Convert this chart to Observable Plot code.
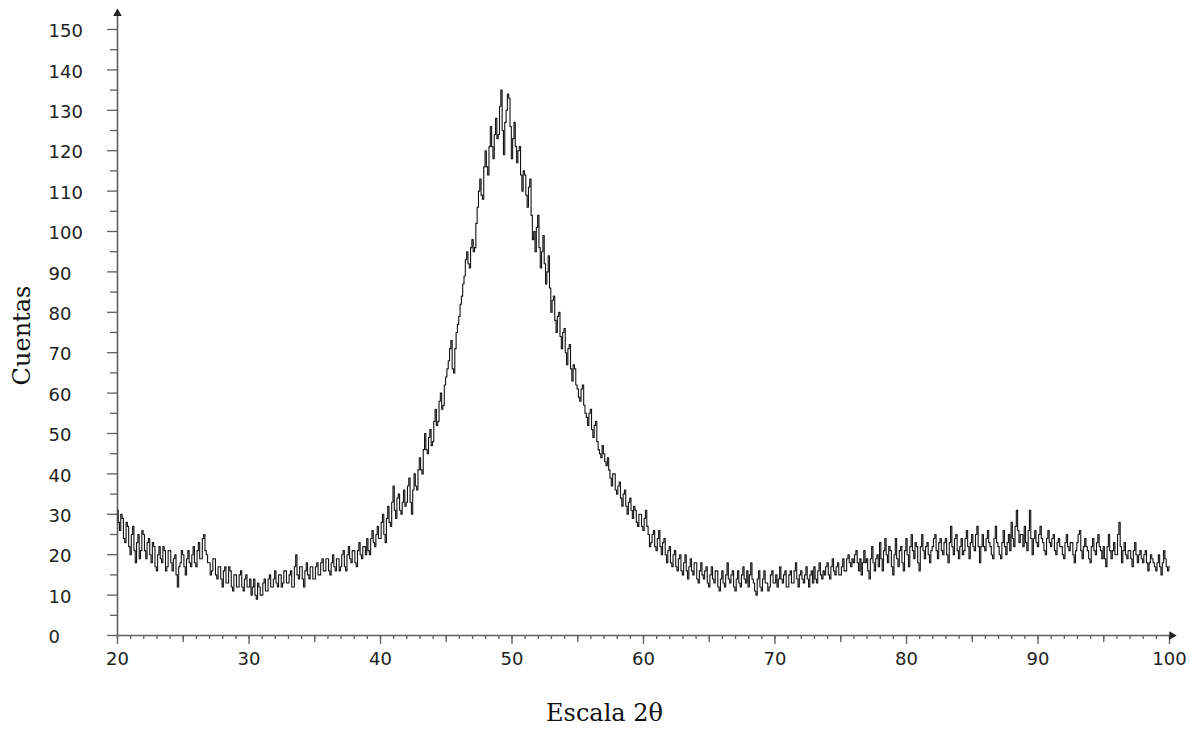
<!DOCTYPE html>
<html>
<head>
<meta charset="utf-8">
<script src="https://cdn.jsdelivr.net/npm/d3@7"></script>
<script src="https://cdn.jsdelivr.net/npm/@observablehq/plot@0.6"></script>
<style>
  html, body { margin: 0; padding: 0; background: #fff; }
  #chart svg { display: block; }
</style>
</head>
<body>
<div id="chart"></div>
<script>
// Counts, one value every 0.1° (2θ), one array per decade
const step = 0.1;
const c20 = [31,28,26,30,29,24,23,28,27,22, 20,25,27,21,18,23,25,19,21,26, 25,21,19,23,24,20,18,23,22,17, 16,20,22,19,18,22,21,16,17,21, 21,18,16,19,20,15,12,17,18,21,
             20,17,15,19,21,18,17,20,22,18, 17,21,23,19,19,24,25,21,20,18, 18,15,16,19,19,15,14,17,17,14, 12,16,17,13,13,17,16,12,11,15, 15,12,12,15,16,12,11,14,15,12];
const c30 = [12,14,10,12,14,10,9,13,12,10, 10,13,14,11,11,14,15,12,12,14, 16,13,12,15,15,12,13,16,16,13, 13,15,16,12,12,17,20,15,14,17, 17,14,12,16,18,15,14,17,17,14,
             14,17,18,15,15,18,19,16,16,19, 19,16,15,18,20,17,16,19,19,16, 17,20,21,17,16,20,22,19,18,21, 21,18,17,21,23,20,19,22,22,20, 24,21,20,24,26,23,22,25,27,24];
const c40 = [24,28,30,25,23,29,32,28,27,33, 37,31,29,34,35,31,30,33,36,32, 33,37,39,33,30,36,40,37,36,41, 44,41,40,46,50,46,45,49,51,47, 48,53,56,52,53,58,60,56,57,62,
             64,66,68,71,73,66,65,71,75,77, 79,82,84,87,89,93,95,92,91,96, 98,95,96,102,106,110,113,109,108,116, 120,116,114,121,126,121,118,124,128,123, 124,131,135,125,119,127,130,134,133,126];
const c50 = [118,123,127,121,117,120,121,114,110,115, 114,109,106,111,113,104,98,100,95,101, 104,96,91,95,99,92,87,90,94,86, 80,83,84,78,75,79,80,74,71,75, 76,70,67,71,72,66,63,67,66,62,
             61,59,58,61,62,57,55,54,52,55, 56,51,49,52,53,48,46,45,44,47, 45,43,42,44,41,39,37,40,40,36, 35,37,38,34,32,35,36,32,30,33, 34,31,29,32,31,28,27,30,30,27];
const c60 = [26,29,31,27,25,22,23,25,26,22, 21,24,26,22,20,23,24,20,18,21, 22,18,17,20,21,17,16,19,20,16, 15,18,20,16,14,17,19,16,15,18, 18,14,13,16,18,15,14,16,17,13,
             12,15,17,14,13,16,16,12,11,14, 16,13,12,15,18,14,13,15,16,12, 11,14,16,13,12,15,17,14,13,16, 12,15,18,14,13,11,10,14,16,12, 11,14,16,13,13,11,12,15,16,13];
const c70 = [13,15,12,14,17,14,13,15,16,12, 12,15,16,13,13,16,18,14,12,15, 16,14,13,15,17,14,12,15,16,13, 17,14,13,16,18,15,14,16,15,17, 18,15,14,17,19,16,15,17,18,15,
             15,17,19,16,16,19,20,18,17,19, 18,20,21,18,16,19,15,18,21,18, 19,16,14,19,22,18,16,19,20,17, 23,19,16,21,24,20,18,22,21,17, 15,20,24,19,17,21,22,18,16,21];
const c80 = [24,20,17,22,25,21,19,23,22,18, 16,22,25,21,19,22,23,20,18,21, 22,24,25,21,19,23,24,21,20,23, 24,20,18,23,27,22,20,24,25,21, 19,22,24,20,21,24,26,22,19,23,
             25,22,21,25,27,22,18,22,25,22, 21,24,26,23,22,20,19,24,27,23, 22,20,19,23,26,22,20,23,25,21, 28,24,22,27,31,26,23,25,25,22, 27,23,21,26,31,24,20,24,26,23];
const c90 = [22,25,27,24,23,21,20,24,26,23, 22,24,25,21,20,23,24,22,22,20, 19,23,25,22,21,23,23,20,18,21, 23,25,26,21,19,22,24,22,21,19, 18,22,24,21,20,23,25,22,21,19,
             22,19,17,22,25,21,19,21,23,20, 20,25,28,22,18,21,23,20,19,21, 21,19,17,21,23,20,18,20,21,19, 18,20,21,18,16,18,20,19,18,17, 16,18,20,17,15,18,21,19,17,16, 17];

const xTickLabels = [20,30,40,50,60,70,80,90,100];
const yTickLabels = [0,10,20,30,40,50,60,70,80,90,100,110,120,130,140,150];
const xMinorTicks = d3.range(20, 101, 1);
const xMidTicks = [25,35,45,55,65,75,85,95];
const yMinorTicks = [5,15,25,35,45,55,65,75,85,95,105,115,125,135,145];
const xLabel = "Escala 2θ";
const yLabel = "Cuentas";

const decades = [[20,c20],[30,c30],[40,c40],[50,c50],[60,c60],[70,c70],[80,c80],[90,c90]];
const data = [];
for (const [start, vals] of decades) {
  vals.forEach((v, i) => data.push({angle: +(start + i * step).toFixed(2), counts: v}));
}

const axisColor = "#5f5f5f";
const tickFont = "'DejaVu Sans', Verdana, sans-serif";
const titleFont = "'DejaVu Serif', serif";

const chart = Plot.plot({
  width: 1195,
  height: 736,
  marginLeft: 117,
  marginRight: 26,
  marginTop: 29,
  marginBottom: 101,
  style: {background: "#fff", color: "#222"},
  x: {domain: [20, 100]},
  y: {domain: [0, 150]},
  marks: [
    // x-axis ticks (minor, mid, major)
    Plot.axisX({ticks: xMinorTicks, tickSize: 4, tickFormat: () => "", label: null, stroke: axisColor, strokeWidth: 1.3}),
    Plot.axisX({ticks: xMidTicks, tickSize: 7, tickFormat: () => "", label: null, stroke: axisColor, strokeWidth: 1.3}),
    Plot.axisX({ticks: xTickLabels, tickSize: 9, tickFormat: () => "", label: null, stroke: axisColor, strokeWidth: 1.3}),
    // y-axis ticks
    Plot.axisY({ticks: yMinorTicks, tickSize: 7, tickFormat: () => "", label: null, stroke: axisColor, strokeWidth: 1.3}),
    Plot.axisY({ticks: yTickLabels, tickSize: 10, tickFormat: () => "", label: null, stroke: axisColor, strokeWidth: 1.3}),
    // axis lines
    Plot.ruleY([0], {x1: 20, x2: 100.25, stroke: axisColor, strokeWidth: 1.6}),
    Plot.ruleX([20], {y1: 0, y2: 154.2, stroke: axisColor, strokeWidth: 1.6}),
    Plot.dot([{x: 20, y: 154.2}], {x: "x", y: "y", symbol: "triangle", r: 3.2, fill: "#222", stroke: null, dy: 1}),
    Plot.dot([{x: 100.25, y: 0}], {x: "x", y: "y", symbol: "triangle", r: 3.2, fill: "#222", stroke: null, rotate: 90, dx: -1}),
    // tick labels
    Plot.text(yTickLabels, {y: d => d, text: d => String(d), frameAnchor: "left", dx: -69, dy: 2, textAnchor: "start", fontSize: 18, fontFamily: tickFont, fill: "#222"}),
    Plot.text(xTickLabels, {x: d => d, text: d => String(d), frameAnchor: "bottom", dy: 29, fontSize: 18, fontFamily: tickFont, fill: "#222"}),
    // axis titles
    Plot.text([yLabel], {frameAnchor: "left", textAnchor: "middle", dx: -95, dy: 3, rotate: -90, fontSize: 24, fontFamily: titleFont, fill: "#111"}),
    Plot.text([xLabel], {frameAnchor: "bottom", textAnchor: "middle", dx: -39, dy: 85, fontSize: 24, fontFamily: titleFont, fill: "#111"}),
    // diffractogram
    Plot.line(data, {x: "angle", y: "counts", curve: "step", stroke: "#111", strokeWidth: 1.1})
  ]
});
document.getElementById("chart").appendChild(chart);
</script>
</body>
</html>
